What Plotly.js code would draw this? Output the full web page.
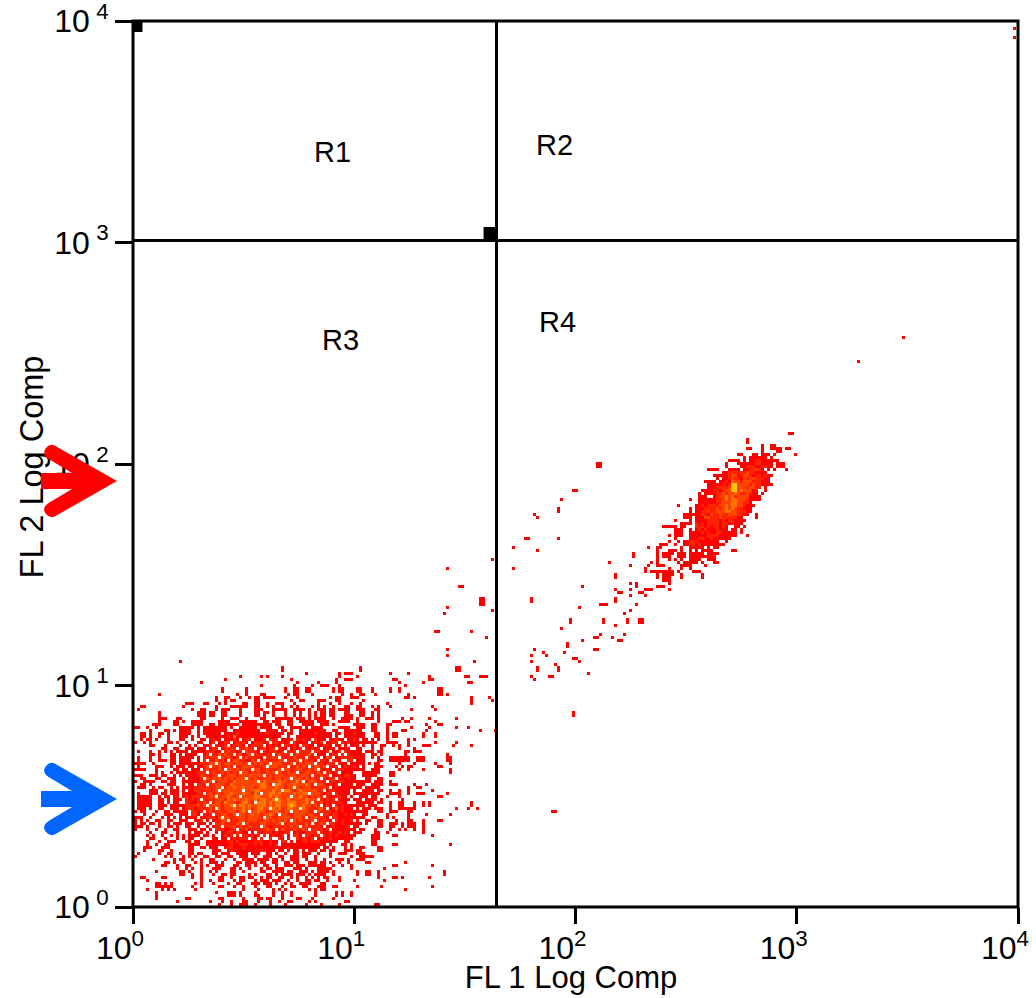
<!DOCTYPE html>
<html><head><meta charset="utf-8">
<script src="https://cdn.plot.ly/plotly-3.0.1.min.js"></script>
<style>html,body{margin:0;padding:0;background:#fff}#chart{width:1036px;height:998px}</style>
</head><body><div id="chart"></div>
<script>
// Density cells. Each string: "column:levels", '.' = empty, levels 1 (red) .. 5 (yellow).
// Low population: rows from top to bottom, the last row touches the x axis.
const lowPopulationRows = [
"15:1 113:1","","49:1 75:1 108:1","49:1 75:1 108:1","57:1 68:1 70:111 85:1 91:1",
"35:1 42:1 44:1 49:1 68:1 74:1 98:1 111:1 115:111","30:1 52:1 67:1 70:111 86:11 99:1","22:1 54:1 61:1 67:1 88:1 96:1 112:1","42:1 53:1 59:1 62:111 68:1 90:1",
"29:1 37:1 50:1 53:11 57:11 66:1 68:11 74:11 79:1 85:1 88:1 101:11","29:1 37:1 50:1 53:11 57:11 66:1 68:11 74:11 79:1 85:1 88:1 101:11",
"8:1 34:1 37:1 42:11 51:1 53:11 59:1 69:1 72:1 75:11 80:1 91:1 101:11 104:1",
"27:1 30:11 35:1 38:1 40:11 43:1111 50:1 54:1 65:1 67:11 72:111 90:11 93:1",
"27:1 30:1 32:11 40:11 52:1 55:11 61:111 67:11 76:1 112:1 119:1",
"17:111 23:11 28:1 30:1 36:11 40:11 44:1 47:111 53:1 61:1 65:1 68:1 72:1 75:1 84:1 112:1",
"2:11 16:1 27:1 32:111111 40:11 44:1 46:1 49:1 52:1 54:1 59:1 61:1 63:1 66:1 70:11 74:11 79:1 81:1 85:1 99:1",
"1:1 19:1 22:11 27:1 29:111 35:1 40:111 46:1111 50:1 53:1111 58:1 61:111 65:11 68:1111 74:111 80:11 92:1 100:1",
"8:1 21:111 25:11 29:11 35:1 40:11 43:11 46:1 50:1 53:1 55:1 58:1 60:1 62:11 65:11 70:11 75:11 79:1 81:1",
"8:1 21:111 25:11 29:11 35:1 40:11 43:1 46:1 50:1 53:1 55:1 58:1 60:1 62:11 65:11 70:111 75:11 79:1 81:1",
"8:111 14:11 22:11 29:1 32:111 37:1 42:11 47:1111 51:11 54:111 58:1 60:1111 66:1 69:1111 74:1 77:111 81:1 89:1 92:1 98:1 107:1",
"8:1 13:11 16:1 19:1111 28:1111 35:111111 43:11 46:111 51:11 55:11 57:111 61:1111 68:1111 74:1 81:1 86:111 90:11 100:1",
"6:111 13:11 19:1111 25:11 28:1111111 36:1111111111 47:11 51:11 56:1111 62:111 66:1 73:1111 79:11 84:11 97:1 101:11",
"0:11 4:1 7:1 15:11111 21:1 23:11111111 32:1 35:111111 42:1111 48:11 52:1111 57:1 59:111 62:1 68:1111 74:111 79:11 84:1 92:1 98:1 107:1 111:1",
"5:1 10:11 13:1 15:1111 21:1 23:111 26:11111 33:1111111 40:11 44:1111 49:11 52:1 55:111111111 66:11 70:111111 79:11 84:1 89:11 97:1 115:1 120:1",
"2:11 5:1 8:11 11:1 15:1111 21:1 23:111111 30:111121 36:1111 40:111121 46:1111 51:11 55:1111121 62:1111 67:11 70:111211 76:1 80:11 84:1 86:11 96:1 100:1",
"2:11 5:1 8:1 11:1 15:111 19:1 21:1 24:1111111 31:2 32:1 33:4 34:1 35:11111 40:11111111 48:1 51:1 54:1111111111 64:11 67:1 70:111111 76:1 80:11 84:1 86:11 96:1 100:1",
"2:1 4:11 7:1 11:1 15:11 19:1 22:11 25:12111 30:111211 36:122211 42:1 43:2121211 50:1121 54:212111 60:2111211 67:211 71:1121 76:11 79:1 81:1 84:1 91:1 93:1",
"0:1 3:1 5:1 11:11 14:1 17:1 21:11 25:122 28:11221 33:12221 38:11222 43:1222212 50:122211 56:11212 61:12111 66:22121 71:211 74:11111 79:11 84:1111 91:1 100:1 107:1",
"5:11 10:1 15:1 18:1 20:1 23:1 24:12121 29:12212 34:221212 40:22211 45:21211 50:221212 56:22111 61:11221 66:21111 72:111 76:1 79:1 82:11 86:1 88:1 91:1 96:111 106:1 112:1",
"9:11 13:11 17:111 21:111 25:12221 30:22222 35:22322 40:21231 45:22.21 50:12121 55:21212 60:12111 65:11211 70:11 74:11 79:1 82:1 88:1 93:1",
"1:1 5:1 8:1 10:1 12:1 14:111 19:1 22:11 24:222112 30:23221 35:22322 40:21221 45:22212 50:322212 56:22212 61:21122 66:11212 71:1111 77:11 79:1 81:11 90:11 93:111",
"5:11 8:1 12:11 15:1 17:1111 23:1 24:222 27:23232 32:22231 37:23222 42:21221 47:23222 52:22322 57:23221 62:11212 67:212 71:21111 76:1 79:11 82:1 90:1 104:1",
"1:1 5:1 8:1 12:11 15:1111 21:1 23:222 26:23232 31:32122 36:23222 41:21322 46:32321 51:22322 56:23212 61:22132 66:21122 71:22111 76:1 81:1 85:1111111 94:111 104:11",
"1:1 5:1 8:111 12:11 15:1111 21:1 23:2222 27:32212 32:23322 37:11322 42:23222 47:23312 52:22332 57:32212 62:22122 67:211 71:22 74:111 81:11 85:1111111 94:111 104:11",
"0:1111 6:1 12:11 15:1 18:1 21:12 23:2233 27:23233 32:32332 37:33232 42:32323 47:33222 52:32232 57:33322 62:21222 67:1211 72:11 76:1 80:11 88:1 93:1 100:1 105:1",
"1:1 7:111 12:1 14:111 18:11 21:11 23:23232 28:32232 33:32233 38:33222 43:32333 48:23232 53:23232 58:22332 63:31212 68:1121 72:121 76:1 80:111 87:1 89:1 91:11 101:11",
"0:1111 7:1 13:11 17:1 19:1111 23:23222 28:32333 33:23232 38:23332 43:23222 48:33332 53:23322 58:32322 63:12122 68:22112 73:11 79:111 88:1 91:1 96:1 105:1",
"7:1 9:1 12:1 14:111111 20:1 21:22232 26:32232 31:32323 36:33232 41:32232 46:33322 51:32332 56:23322 61:32122 66:12111 71:11 76:1111 80:11 85:11 105:1",
"0:111 5:111 9:11 13:1 15:1 17:1111 21:23222 26:23222 31:33323 36:32333 41:33323 46:23332 51:33323 56:33232 61:23222 66:11212 71:212 76:11111 85:11",
"2:11 7:11 11:111 16:1 18:1111 22:23323 27:33232 32:32333 37:33232 42:23332 47:33233 52:23332 57:32322 62:22122 67:22112 72:11 77:11 81:11",
"0:1 3:1111 9:1 13:1 16:111 21:1 22:23232 27:23332 32:24333 37:33332 42:34333 47:34332 52:33433 57:23332 62:22122 67:12211 72:1111 76:1 80:111 85:1",
"2:11 5:1 11:111 16:1 18:11 21:22222 26:23332 31:24333 36:33333 41:34432 46:34432 51:33433 56:34323 61:33212 66:12211 71:11 74:111 79:1111 85:111 93:1 97:1",
"1:111 6:1 12:1 14:1 16:111 20:222232 26:23332 31:33433 36:43332 41:34433 46:34332 51:33432 56:33322 61:22322 66:12111 71:1 73:111 77:11111 91:1 94:11",
"5:111 10:1 12:111 16:1 18:1 19:12222 24:22233 29:33333 34:33433 39:34433 44:33433 49:34432 54:34333 59:33222 64:12211 69:111 73:1 76:1111 81:11 85:1 88:1 91:1 99:1",
"1:1 5:11 9:11 12:111 16:11 20:12222 25:32332 30:33433 35:34332 40:43433 45:44343 50:33343 55:34433 60:33212 65:21211 70:11 73:1111 78:1111 85:1111 91:1 94:111 104:1",
"1:11111 8:1 10:11 13:11 16:12 18:122222 24:23332 29:33432 34:34333 39:34433 44:34343 49:33343 54:34332 59:32322 64:21122 69:11 72:1 75:111 79:11 84:1 88:1 101:11",
"1:1111 5:1 8:11 11:1 13:11 17:212 20:12222 25:22333 30:24343 35:33433 40:43443 45:34343 50:34333 55:33433 60:32212 65:12111 70:1 73:111 77:1111 82:1 89:1",
"1:1111 5:1 8:11 11:1 13:11 17:221 20:12232 25:32332 30:43332 35:34432 40:34443 45:43443 50:34443 55:33432 60:22312 65:12121 70:1 74:11 76:1111 81:11 85:1 88:11 93:1 96:1 98:1 112:1",
"1:1111 5:1 8:111 12:1 15:1 17:222 20:23232 25:33332 30:33433 35:44343 40:34443 45:43443 50:34543 55:34332 60:32312 65:12212 70:11 74:111 78:111 85:1 88:11 93:1 96:1 98:1 112:1",
"1:111 5:1 8:11 12:111 16:12 18:221 21:22223 25:32332 30:33343 35:34342 40:34433 45:34342 50:34433 55:34322 60:23322 65:12412 70:111 74:1 76:111 80:111 85:1 88:111111 107:1 111:1 114:1",
"0:1 2:11 7:1 10:1 13:111 17:1 19:2212 23:22 25:32232 30:23332 35:34333 40:34332 45:33432 50:33433 55:33322 60:23222 65:21212 70:1 72:11 76:11 81:11 85:111 91:11",
"3:1 6:1 10:11 12:1 15:11 17:1 19:221 23:21222 28:23322 33:33332 38:34332 43:33432 48:33322 53:33332 58:33222 63:22122 68:11212 73:1 76:11 84:1 91:1 97:1 105:1",
"0:111 5:1 9:1 11:1 15:1 17:1 19:11 22:2122 26:21 28:32332 33:23332 38:33332 43:23322 48:33332 53:33322 58:23322 63:21122 68:111 73:1 76:1 79:11 84:1 86:1 91:1",
"0:1 2:1 4:1 7:11 11:11 15:111 20:112 24:1212 28:23332 33:22332 38:33322 43:33232 48:32322 53:32322 58:23122 63:22112 68:12112 74:1 77:11 81:11 87:1 91:11 96:1 101:11",
"0:1 2:11 5:11 8:1 11:1 13:11 17:11 21:111 25:122 28:2322 32:22332 37:32222 42:33222 47:33222 52:33222 57:32322 62:32122 67:11212 74:11 77:1 81:11 85:111 89:1 91:111 96:1",
"0:111 4:1 8:1 11:11 14:1 17:11 21:1 24:1112 28:2222 32:23232 37:23222 42:23212 47:22222 52:32322 57:32222 62:12112 67:11112 73:11 81:11 85:11 89:1 91:111 96:1",
"0:1 4:1 7:1 10:1 13:11 18:1 22:1 25:1 27:2221 31:12222 36:23122 41:22232 46:22232 51:22322 56:32322 61:22122 66:111 71:111 75:11 80:1 85:1 88:1 90:1 93:1 96:1",
"5:1 9:11 14:1 18:1 20:111 24:1 27:12112 32:21221 37:1 39:1 40:2212 44:22121 49:12211 54:21 56:12222 61:12112 66:11212 71:1 73:111 80:11 84:1 96:1",
"4:1 6:1 9:1 14:1 18:1111 23:11 26:11 29:12122 34:2 36:22121 41:2 43:2 45:1211 49:2 51:1 53:2212 56:22212 61:21212 66:1211 71:111 79:111 86:11 99:1",
"5:11 10:1 14:1 16:1 18:11 22:1 26:11 29:11212 34:12221 39:21 42:2 45:2 48:21 51:1 54:21 56:22122 61:12112 66:11111 71:11 79:111",
"4:1 8:1 11:111 17:11 20:11 24:11111 29:11221 34:21111 39:12221 44:121 47:1 49:22 52:1 54:11 56:22122 61:21111 66:11 70:11 79:11",
"4:1 7:1 10:11 18:111 21:1 24:11111 29:11121 34:12221 39:12121 44:121 47:2 49:11111 54:11111 59:111 62:11 65:1 69:11 72:1 79:11 86:11 105:1",
"3:111 9:111 18:11 22:11 25:111 30:12211 35:12111 40:11111 45:11111 50:12111 55:11111 60:11 63:11 66:1 70:1 72:1 75:11 81:11",
"3:1 8:11 12:1 18:11 26:111 31:12111 36:11111 41:12211 46:1 48:11 51:1 53:11 56:1 58:111 62:11 65:11 70:111 74:11 81:11",
"1:1 8:1 11:11 15:1 18:11 21:11 26:11 29:111 34:1111 39:111 44:11 47:1 50:1 53:11 56:111 61:1 65:1 68:111 74:111",
"0:1 10:1 12:1 16:1 18:1 20:1 23:11 27:11 31:11 35:111 40:1 43:111 48:11 52:111 56:11 60:1 65:1 72:1 75:111 78:11",
"6:1 13:1 15:11 19:1 22:1 25:11 30:1 33:1 36:1111 41:1111 46:11 49:1 52:111 57:1 60:1 63:1 67:111 71:1 74:111",
"10:11 13:1 16:1 20:1 22:1 25:111 29:1 34:11 37:1111 42:11 46:11 50:11 53:11 58:111 62:11 65:1 68:1 71:1 77:11 90:1",
"9:11 14:1 17:11 22:1 24:1 27:111 33:11 37:11 40:1 43:11 47:1 50:111 54:111 58:111 61:111 66:1 69:1 72:1 86:11 99:1",
"14:1 17:1 19:1 22:1 26:111 32:11 35:1 38:1 42:1 44:11 47:111 53:111 57:1 61:1111 65:1 72:1 83:1",
"7:1 15:11 18:1 22:1 25:1 27:1 32:11 36:1 42:11 46:1111 51:11 55:11 57:1 59:1 61:1111 66:1 74:1 77:11 81:1 103:1",
"15:11 19:1 22:1 26:1 29:11 32:11 38:1 40:1 44:11 47:1 49:1111 54:111 58:1 60:1111 66:1 74:1 77:11 81:1 103:1",
"2:11 9:11 19:1 22:1 28:11 32:1 35:11 38:11 42:1 44:11 48:11 52:1 54:1 57:1 59:1 61:1 63:11 68:1 81:1 86:11 89:1 98:1",
"4:1 22:1 25:1 28:11 33:1 35:11 40:1 42:111 46:111 51:1 54:1 57:11 60:11 64:1 68:1 73:1 83:1",
"7:11 10:1 12:1 20:1 22:1 26:1 31:1 34:11 39:111 43:111 47:1 50:1 52:1 55:111 58:1 62:11",
"7:111111 19:1 22:1 28:11 33:1 36:1 40:1 44:11 49:1 52:11 56:11 61:111 66:11 74:1 82:1 99:1",
"4:1 9:1 11:1 13:1 20:1 36:1 41:1 46:1 48:1 50:1 58:1 60:1 62:11 90:1",
"7:1 27:1 31:111 35:1 40:1 46:1 49:1 52:1 60:1 67:1 69:1 72:1",
"7:1 31:111 35:1 40:11 46:1 49:1 52:1 60:1 67:1 69:1 72:1",
"7:1 17:11 28:11 36:1 41:11 44:11 49:1 54:11 59:1 66:1",
"14:1 25:1 29:1 32:1 36:11 41:1 45:1 48:1 51:11 58:1 60:1 70:11",
"28:1 32:1 35:111 40:1 45:1 50:1 57:1 62:1 68:1 80:11"
];
// Extra fringe cells of the low population, by row number of lowPopulationRows.
const fringeRowIndex = [30,32,34,36,38,40,42,44,46,48,50,52,54,56,58];
const fringeRows = [
"17:1 19:11 21:1 71:1 75:1 78:1","18:11 75:11 79:1","16:11 19:11 74:111 78:1","14:1 16:1 71:11 75:11","13:1 19:1 73:1","10:1 12:1 19:11 76:111",
"8:11 19:1 70:1 72:1","7:1 14:1 18:11 71:1 77:1","15:1 70:11 75:1","13:11 16:1 71:11 73:1","11:1 16:1 71:1 74:11","13:1 18:1 71:11 74:11",
"15:1 19:1 23:1 71:111","19:11 23:1 69:11","12:1 16:1 70:1"
];
// White holes inside the dense part of the low population, rows 26 to 59: columns per row.
const holeFirstRow = 26;
const holeColumns = [
[24,29,35,39,44,48,53,59,64],[27,32,38,45,52,58,63,68],[26,31,37,43,49,55,60,66,69],[24,28,34,40,47,51,56,62,67],[29,36,42,50,54,59,65,69],
[25,33,39,46,52,60,64,68],[28,35,43,48,57,62,66],[24,31,41,50,55,61,65,69],[27,38,45,53,60,67],[25,33,44,51,58,64,68],
[22,30,39,49,61,66],[24,35,47,54,63,68],[28,43,59,65],[23,37,52,62,67],[26,41,56,64],[24,46,60,68],[29,53,65],[28,36,49,63],[23,42,58,66],[27,35,52,63],
[22,47,61,67],[25,40,59],[24,33,62,66],[27,45,55,64],[23,38,52,60],[26,34,48,62],[29,43,57,65],[25,31,52,60,66],[24,26,36,49,59,64],[25,29,42,55,63],
[26,34,47,58,65],[28,40,52,61],[27,33,44,56,62],[31,38,50,60]
];
// High population (upper right cluster): rows from top to bottom.
const highPopulationRows = [
"49:11","","35:1","35:1","40:1 43:11","35:11 40:1 43:1111 48:11","40:1 45:11","32:11 37:11 40:111 44:1 51:1","34:1 36:111111 43:1",
"29:1111 34:1 36:112211 42:1111","28:1 32:111111 38:221 41:111 45:111","28:1 33:1122211 40:2211 45:111",
"22:111 25:1 29:1111 34:1 35:122321 42:1 44:1 48:1","27:1122222 34:23221 39:111","24:111 27:1123312 34:33212 39:2121 43:1",
"25:1 27:1123221 34:32332 39:2211","21:1111 26:1 27:1214332 34:33322 39:211 42:1","22:1111 26:12 28:12 30:55 32:3333 36:232 39:211 42:11",
"22:1112 26:222 29:3 30:55 32:3332 36:3322 41:1","20:11112 25:2123 29:3 30:55 32:3433 36:312 41:1","19:1 21:111 24:1223 28:233 31:4322 35:3211 40:1",
"19:111 24:1 25:2334 29:342 32:3333 36:1111","16:1 19:1111 23:1 24:122 27:34 29:34 31:4 32:3332 36:1111","19:111 22:11 24:1 25:2233 29:3 30:44 32:3322 36:1",
"12:1 18:11212 23:2223 27:3 28:4 29:344 32:3321 36:11","16:1 18:11122 23:2232 27:34 29:3432 33:211 36:1","16:1 18:11223 23:2233 27:34 29:4332 33:221 36:1",
"14:111 17:1 18:1122 22:1 23:32 25:2322 29:333 32:2211 38:1","14:111 18:11 20:1 21:33 23:222 26:3222 30:221 33:1 38:1","11:1 16:1 18:111 21:1222 25:2121 29:2211 33:11",
"13:1111 18:2121 22:2222 26:1221 30:2111","7:1111 11:1 13:11 18:2221 22:2122 26:121 31:11 34:1","11:111 16:1 18:1212 22:1112 26:111 30:11 33:1",
"11:111 16:111 19:1212 23:1122 27:111 30:11 33:1","9:1 11:111 16:1111 20:1122 24:2211 28:1111 35:1","11:1 16:1112 20:2112 24:111 27:111",
"9:1 12:1 14:11 16:2221 20:1111 24:11 28:1","6:111 11:1 14:1122 18:1211 22:1111 26:11","2:1 5:11 13:1 16:1111 20:1 22:1 24:11",
"5:1 9:111 13:1 16:1 18:1 20:1111 30:11","5:1 7:1111 12:111 16:11111 22:1111","5:1 7:111 12:111 16:111 19:111111","5:1 9:1 11:1 13:1 16:1111 22:111",
"3:1 5:1 12:1 14:11111 20:1 24:11","2:1 5:111 13:1111 21:1","1:1 9:1 13:1 16:1","1:1 3:1111 7:1111 12:1 17:111","5:1 7:1111 13:1 20:1",
"5:1 7:111 13:1 20:1","7:111","9:1","5:111","1:111 9:1"
];
// Isolated events: column and row (counted from the lower left corner).
const eventCols = [146,147,142,141,141,133,134,130,131,141,126,134,171,166,166,158,119,104,126,165,171,170,170,160,160,108,109,149,165,167,167,160,165,170,171,161,162,168,169,170,165,132,132,160,160,115,116,115,116,115,116,155,156,157,167,104,148,119,165,103,163,145,145,156,156,164,164,168,169,168,169,160,142,100,101,112,155,163,117,153,154,159,149,161,162,144,144,104,133,153,154,136,143,104,132,137,146,147,113,132,148,140,107,107,134,134,141,141,151,110,115,116,132,138,139,98,133,111,241,256,154,155,154,155,146,146,139,140,293,293,112,118];
const eventRows = [138,138,135,132,131,130,129,122,122,122,119,118,119,117,116,114,115,112,112,113,113,112,111,110,109,106,106,106,107,107,106,105,105,105,105,104,104,104,104,103,103,102,101,102,101,102,102,101,101,100,100,100,100,100,100,99,99,98,98,97,97,95,94,95,94,95,94,95,95,94,94,93,92,91,91,91,90,90,89,89,89,89,88,88,88,87,86,85,85,85,85,84,84,83,83,83,82,82,81,81,81,80,79,78,79,78,79,78,77,76,76,76,76,76,76,75,75,74,181,189,147,147,146,146,64,63,31,31,292,289,69,69];
const quadrantX = [43.95, 43.95];
const quadrantYSpan = [1, 10000];
const quadrantY = [1021, 1021];
const quadrantXSpan = [1, 10000];
const handleX = [1.048, 41.1];
const handleY = [9397, 1098];
const handleSize = [10, 13];
const regionNames = ["R1","R2","R3","R4"];
const regionLogX = [0.903, 1.905, 0.94, 1.92];
const regionLogY = [3.41, 3.44, 2.56, 2.64];
const tickValues = [1,10,100,1000,10000];
const xTickText = ["10<sup>0</sup>","10<sup>1</sup>","10<sup>2</sup>","10<sup>3</sup>","10<sup>4</sup>"];
const yTickText = ["10<sup>&nbsp;0</sup>","10<sup>&nbsp;1</sup>","10<sup>&nbsp;2</sup>","10<sup>&nbsp;3</sup>","10<sup>&nbsp;4</sup>"];
const levelColors = ["#ff0000","#ff2200","#ff4400","#ff7400","#ffc400"];

const channels = 295, pxPerDecadeX = 221.25, pxPerDecadeY = 221.5;
const z = Array.from({length: channels}, () => new Array(channels).fill(null));
function addRow(str, row, colShift) {
  str.split(" ").filter(Boolean).forEach(seg => {
    const [c, cells] = seg.split(":");
    [...cells].forEach((ch, k) => {
      if (ch !== ".") z[row][+c + colShift + k] = +ch;
    });
  });
}
lowPopulationRows.forEach((s, i) => addRow(s, 81 - i, 0));
fringeRows.forEach((s, i) => addRow(s, 81 - fringeRowIndex[i], 0));
holeColumns.forEach((cols, i) => cols.forEach(c => { z[81 - (holeFirstRow + i)][c] = null; }));
highPopulationRows.forEach((s, i) => addRow(s, 157 - i, 169));
eventCols.forEach((c, i) => { z[eventRows[i]][c] = 1; });
const binX = Array.from({length: channels}, (_, j) => Math.pow(10, (2.5 + 3*j) / pxPerDecadeX));
const binY = Array.from({length: channels}, (_, j) => Math.pow(10, (2.5 + 3*j) / pxPerDecadeY));

function arrowPath(tipLeft, tipTop) {
  const pts = "M-76,-8 L-45,-8 L-68,-21.7 Q-76,-27 -71,-33 Q-67,-38 -62,-35.3 L0,0 L-62,35.3 Q-67,38 -71,33 Q-76,27 -68,21.7 L-45,8 L-76,8 Z";
  return pts.replace(/(-?[\d.]+),(-?[\d.]+)/g, (m, a, b) => (tipLeft + (+a) - 133) + "," + (21 - tipTop - (+b)));
}
function arrowShape(tipLeft, tipTop, color) {
  return {type:"path", xref:"paper", yref:"paper", xsizemode:"pixel", ysizemode:"pixel", xanchor:0, yanchor:1,
          path:arrowPath(tipLeft, tipTop), fillcolor:color, line:{width:0}, layer:"above"};
}
const font = {family:"Liberation Sans, Arial, sans-serif", color:"#000"};
const data = [
  {type:"heatmap", x:binX, y:binY, z:z, zmin:1, zmax:5, showscale:false, hoverinfo:"skip",
   colorscale:levelColors.map((c,i)=>[i/4,c])},
  {type:"scatter", mode:"lines", x:quadrantX, y:quadrantYSpan, line:{color:"#000",width:3}, hoverinfo:"skip", showlegend:false},
  {type:"scatter", mode:"lines", x:quadrantXSpan, y:quadrantY, line:{color:"#000",width:3}, hoverinfo:"skip", showlegend:false},
  {type:"scatter", mode:"markers", x:handleX, y:handleY, marker:{symbol:"square",color:"#000",opacity:1,size:handleSize,line:{width:0}}, hoverinfo:"skip", showlegend:false}
];
const layout = {
  width:1036, height:998, margin:{l:133,r:18,t:21,b:91}, paper_bgcolor:"#fff", plot_bgcolor:"#fff", showlegend:false,
  font:Object.assign({size:31}, font),
  xaxis:{type:"log", range:[0,4], tickmode:"array", tickvals:tickValues, ticktext:xTickText, ticks:"outside", ticklen:16, tickwidth:3, tickcolor:"#000",
         showgrid:false, zeroline:false, showline:false, tickangle:0, tickfont:Object.assign({size:32},font), ticklabelshift:-13, ticklabelstandoff:-3, ticklabeloverflow:"allow",
         title:{text:"FL 1 Log Comp", font:Object.assign({size:31},font), standoff:2}},
  yaxis:{type:"log", range:[0,4], tickmode:"array", tickvals:tickValues, ticktext:yTickText, ticks:"outside", ticklen:17, tickwidth:3, tickcolor:"#000",
         showgrid:false, zeroline:false, showline:false, tickfont:Object.assign({size:32},font), ticklabeloverflow:"allow",
         title:{text:"FL 2 Log Comp", font:Object.assign({size:32.5},font), standoff:4}},
  shapes:[
    {type:"rect", xref:"paper", yref:"paper", x0:0, x1:1, y0:0, y1:1, line:{color:"#000",width:3}, fillcolor:"rgba(0,0,0,0)", layer:"above"},
    arrowShape(117, 481, "#ff0000"),
    arrowShape(117, 799, "#0066ff")
  ],
  annotations:regionNames.map((t,i)=>({text:t, xref:"x", yref:"y", x:regionLogX[i], y:regionLogY[i], showarrow:false, font:Object.assign({size:29},font)}))
};
Plotly.newPlot("chart", data, layout, {staticPlot:true, displayModeBar:false}).then(gd => {
  // the arrows lie over the y axis title in the reference
  const ytitle = gd.querySelector(".g-ytitle"), xtitle = gd.querySelector(".g-xtitle"), above = gd.querySelector(".layer-above");
  if (ytitle && above) { above.parentNode.insertBefore(ytitle, above); ytitle.setAttribute("transform","translate(4,3)"); }
  if (xtitle) xtitle.setAttribute("transform","translate(-4.5,-2)");
});
</script></body></html>
